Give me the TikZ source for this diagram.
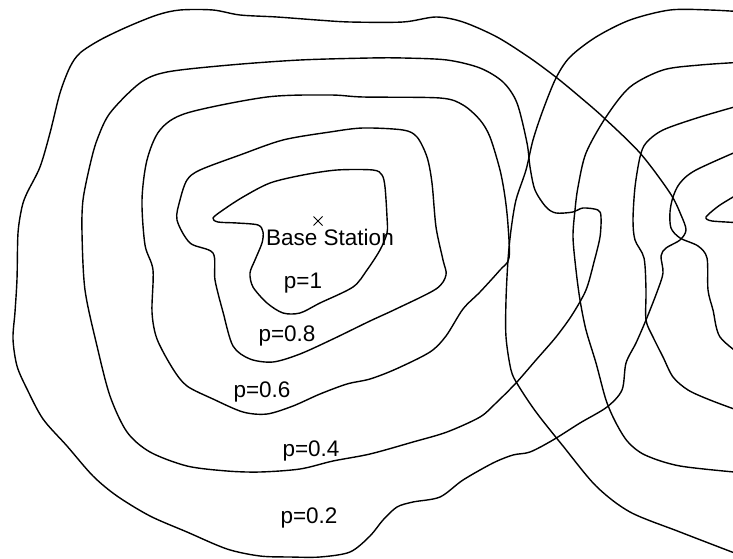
\documentclass[tikz,border=0pt]{standalone}
\usepackage{fontspec}
\setmainfont{Liberation Sans}
\usetikzlibrary{shapes.misc}
\begin{document}
\begin{tikzpicture}[x=1pt,y=-1pt,
  contour/.style={line width=1.4pt, black, line join=round},
  lbl/.style={font=\fontsize{22.5}{22.5}\selectfont, inner sep=0pt, anchor=base}]
\useasboundingbox (0,0) rectangle (733,559);
\fill[white] (0,0) rectangle (733,559);
\begin{scope}
\clip (0,0) rectangle (733,559);
% left station, p=1
\draw[contour] plot[smooth cycle, tension=0.5] coordinates {
(213,218) (218,222) (237,223) (258,225) (263,232) (262,243) (255,260) (250,273) (253,287) (267,303) (283,313) (300,313) (320,303) (353,287) (367,270) (380,250) (387,233) (387,217) (385,187) (382,175) (373,170) (337,170) (303,175) (270,183) (243,197) (223,210)};
% p=0.8
\draw[contour] plot[smooth cycle, tension=0.5] coordinates {
(177,220) (180,200) (187,180) (200,170) (240,155) (283,140) (330,132) (363,128) (403,130) (417,137) (427,157) (432,183) (436,227) (443,260) (446,275) (436,289) (396,309) (370,321) (333,339) (300,354) (273,362) (250,359) (233,346) (223,312) (215,280) (213,253) (190,243)};
% p=0.6
\draw[contour] plot[smooth cycle, tension=0.5] coordinates {
(142,200) (147,160) (160,130) (187,113) (267,97) (330,95) (363,97) (440,98) (463,105) (480,120) (490,137) (500,170) (505,197) (508,225) (509,258) (500,270) (480,292) (463,309) (446,336) (430,352) (396,369) (370,379) (347,384) (320,394) (293,406) (267,414) (243,412) (213,399) (187,386) (173,369) (157,339) (152,312) (153,270) (145,245)};
% p=0.4
\draw[contour] plot[smooth cycle, tension=0.5] coordinates {
(82,233) (83,200) (90,165) (97,140) (110,113) (140,83) (167,72) (230,65) (300,60) (370,58) (403,58) (447,60) (480,68) (503,82) (517,103) (527,143) (530,167) (535,190) (546,207) (556,213) (573,212) (583,208) (598,210) (601,217) (600,237) (594,262) (586,290) (572,315) (556,337) (536,360) (516,383) (496,403) (480,417) (447,432) (413,442) (370,454) (333,461) (300,469) (260,472) (227,471) (187,466) (150,452) (127,432) (110,396) (97,346) (85,290)};
% p=0.2
\draw[contour] plot[smooth cycle, tension=0.5] coordinates {
(157,15) (180,10) (213,10) (240,15) (277,17) (317,20) (350,22) (403,22) (436,17) (463,22) (497,37) (530,58) (557,78) (580,97) (603,117) (640,153) (670,193) (681,215) (686,230) (680,240) (666,248) (661,256) (663,273) (657,292) (646,320) (636,343) (626,363) (622,390) (607,407) (580,423) (553,440) (530,452) (513,455) (493,463) (463,480) (440,497) (413,502) (397,507) (383,520) (370,536) (350,552) (320,557) (290,557) (260,556) (227,549) (187,532) (150,516) (117,496) (93,476) (67,446) (43,419) (27,389) (17,366) (13,339) (15,312) (17,279) (18,233) (22,207) (27,193) (40,167) (50,133) (60,93) (70,67) (80,53) (100,40) (127,27)};
% right station contours
\draw[contour] plot[smooth, tension=0.5] coordinates {
(745,12) (710,10) (670,10) (630,20) (596,37) (570,57) (556,78) (543,110) (533,140) (526,170) (516,200) (511,230) (508,260) (506,300) (506,337) (511,370) (518,385) (536,412) (563,446) (596,486) (630,512) (680,532) (745,557)};
\draw[contour] plot[smooth, tension=0.5] coordinates {
(745,62) (700,65) (663,70) (630,87) (606,117) (586,153) (578,187) (575,210) (573,237) (576,270) (580,300) (586,330) (596,363) (606,400) (616,423) (628,442) (645,455) (680,466) (745,473)};
\draw[contour] plot[smooth, tension=0.5] coordinates {
(745,104) (700,117) (663,130) (646,143) (640,157) (635,187) (633,220) (635,240) (644,258) (646,290) (646,320) (653,337) (663,357) (673,377) (688,390) (710,400) (745,413)};
\draw[contour] plot[smooth, tension=0.5] coordinates {
(745,148) (696,170) (680,183) (673,197) (670,212) (671,228) (680,238) (698,246) (707,258) (708,290) (713,310) (720,337) (745,358)};
\draw[contour] plot[smooth, tension=0.4] coordinates {
(745,190) (720,205) (706,217) (712,221) (745,223)};
\end{scope}
% base station marker
\node[draw, cross out, line width=1pt, minimum size=8pt, inner sep=0pt] (bs) at (318,221) {};
% labels
\node[lbl] (bsl) at (330,245) {Base Station};
\node[lbl] (p1) at (303,288) {p=1};
\node[lbl] (p08) at (287,341) {p=0.8};
\node[lbl] (p06) at (262,397) {p=0.6};
\node[lbl] (p04) at (311,456) {p=0.4};
\node[lbl] (p02) at (309,523) {p=0.2};
\end{tikzpicture}
\end{document}
